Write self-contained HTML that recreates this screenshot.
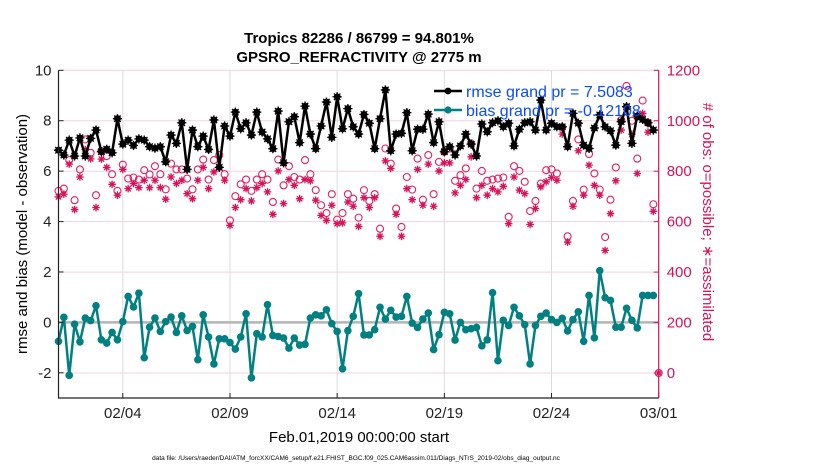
<!DOCTYPE html>
<html><head><meta charset="utf-8">
<style>
body{margin:0;background:#fff;}
svg{display:block;font-family:"Liberation Sans",sans-serif;}
</style></head>
<body>
<svg id="chart" width="830" height="470" viewBox="0 0 830 470" xmlns="http://www.w3.org/2000/svg">
<g id="grid"></g>
<g id="series"></g>
<g id="axes"></g>
<text x="359" y="43" font-size="15" font-weight="bold" text-anchor="middle">Tropics 82286 / 86799 = 94.801%</text>
<text x="359" y="62" font-size="15" font-weight="bold" text-anchor="middle">GPSRO_REFRACTIVITY @ 2775 m</text>
<text x="359" y="442" font-size="15" text-anchor="middle">Feb.01,2019 00:00:00 start</text>
<text transform="translate(27,234) rotate(-90)" font-size="15" text-anchor="middle">rmse and bias (model - observation)</text>
<text transform="translate(703,222) rotate(90)" font-size="15" fill="#d6135a" text-anchor="middle"># of obs: o=possible; ∗=assimilated</text>
<text x="356" y="460" font-size="6.5" text-anchor="middle">data file: /Users/raeder/DAI/ATM_forcXX/CAM6_setup/f.e21.FHIST_BGC.f09_025.CAM6assim.011/Diags_NTrS_2019-02/obs_diag_output.nc</text>
<g id="legend"></g>
</svg>
<script>
const xTickLabels=["02/04","02/09","02/14","02/19","02/24","03/01"];
const xTickDays=[3,8,13,18,23,28];
const yLeftTicks=[-2,0,2,4,6,8,10];
const yRightTicks=[0,200,400,600,800,1000,1200];
const rmse=[6.83,6.64,7.23,6.6,7.32,6.6,7.3,7.63,6.77,6.87,6.73,8.08,7.07,7.23,7.02,7.28,7.23,6.97,6.91,6.97,6.37,7.43,7.1,7.92,6.07,7.63,6.97,7.39,6.86,
8.03,6.15,7.79,7.39,8.34,7.68,7.92,7.43,8.34,7.55,7.28,6.89,8.38,6.33,7.96,8.16,7.13,8.58,7.47,6.89,7.79,8.74,7.34,8.95,7.68,8.48,7.76,7.47,
8.25,7.9,6.89,8.08,9.22,6.81,7.47,7.5,8.32,6.81,7.66,7.66,8.26,7.13,7.96,6.77,6.97,6.64,7.0,7.47,7.07,6.6,7.87,7.56,7.92,8.0,7.76,7.9,
7.0,7.66,7.92,7.96,7.63,8.82,7.63,7.9,7.76,7.76,6.97,8.29,7.9,7.03,6.9,7.71,8.23,7.76,7.6,7.03,7.96,8.56,7.1,8.19,8.05,7.92,7.63];
const bias=[-0.75,0.2,-2.1,-0.07,-0.77,0.17,0.07,0.66,-0.69,-0.82,-0.4,-0.69,0.03,1.03,0.61,1.16,-1.4,-0.19,0.17,-0.36,0.03,0.21,-0.4,0.26,-0.32,-0.16,-1.48,0.3,-0.58,-1.65,-0.65,-0.65,-0.8,-1.06,-0.58,0.34,-2.2,-0.45,-0.58,0.7,-0.52,-0.56,-0.62,-1.02,-0.62,-0.9,-0.87,0.17,0.3,0.26,0.5,-0.05,-0.36,-1.84,-0.33,0.24,1.14,
-0.5,-0.5,-0.29,0.6,0.13,0.48,0.21,0.24,1.03,-0.03,-0.2,0.13,0.37,-1.08,-0.49,0.4,0.34,-0.7,0,-0.29,-0.25,-0.2,-0.93,-0.69,1.18,-1.52,0.08,-0.12,0.6,0.26,-0.09,-1.65,-0.12,0.24,0.37,0.11,0,0.16,-0.34,0.11,0.42,-0.75,1.07,-0.61,2.05,0.98,0.87,-0.19,-0.19,0.56,0.08,-0.22,1.07,1.07,1.07];
const nPossible=[722,731,844,685,807,926,873,705,880,860,788,722,826,771,775,767,804,787,820,788,728,830,807,807,771,728,807,846,767,
844,864,788,605,701,748,767,722,767,788,767,678,846,744,820,777,767,844,788,725,665,634,709,608,634,709,691,616,
725,682,709,572,890,830,652,579,777,727,850,687,864,709,837,877,890,762,784,811,910,731,801,762,767,771,775,619,
820,801,758,642,682,751,804,807,791,974,542,682,926,727,868,791,727,539,687,815,1003,1138,1000,850,1080,992,669,0];
const nUsed=[698,709,828,648,777,886,849,656,848,815,748,705,807,731,751,735,764,735,764,735,689,777,751,764,711,691,764,815,731,
797,815,764,585,656,687,731,682,735,751,718,629,801,672,767,744,691,767,762,685,625,605,665,592,595,678,661,581,
695,656,695,542,841,811,629,542,731,687,807,665,828,661,801,833,833,714,744,767,857,695,744,705,731,718,740,592,
777,725,711,589,652,738,758,775,764,947,519,661,881,705,824,744,705,486,632,762,963,1053,947,791,1029,955,641,0];

const NS="http://www.w3.org/2000/svg";
const L=58.5,R=658.7,T=70.3,B=398;
function xs(d){return L+(R-L)*d/28;}
function yl(v){return T+(B-T)*(10-v)/13;}
function yr(v){return 373-(373-T)*v/1200;}
function el(tag,attrs,parent){const e=document.createElementNS(NS,tag);for(const k in attrs)e.setAttribute(k,attrs[k]);parent.appendChild(e);return e;}
const grid=document.getElementById('grid'),series=document.getElementById('series'),axes=document.getElementById('axes'),legend=document.getElementById('legend');
xTickDays.forEach((d,i)=>{
  const g=el('line',{x1:xs(d),x2:xs(d),y1:T,y2:B,stroke:'#dcdcdc','stroke-width':1},grid);
  
  
  const t=el('line',{x1:xs(d),x2:xs(d),y1:B,y2:B-5,stroke:'#222'},axes);
  
  
  const lb=el('text',{x:xs(d),y:B+20,'font-size':15,'text-anchor':'middle',fill:'#222'},axes);
  lb.textContent=xTickLabels[i];
  
  
});
yRightTicks.forEach(v=>{
  const g=el('line',{x1:L,x2:R,y1:yr(v),y2:yr(v),stroke:'#f2d3df','stroke-width':1},grid);
  
  
  const t=el('line',{x1:R,x2:R-5,y1:yr(v),y2:yr(v),stroke:'#d6135a'},axes);
  
  
  const lb=el('text',{x:R+8,y:yr(v)+5,'font-size':15,fill:'#d6135a'},axes);
  lb.textContent=v;
  
  
});
yLeftTicks.forEach(v=>{
  const t=el('line',{x1:L,x2:L+5,y1:yl(v),y2:yl(v),stroke:'#222'},axes);
  
  
  const lb=el('text',{x:L-7,y:yl(v)+5,'font-size':15,'text-anchor':'end',fill:'#222'},axes);
  lb.textContent=v;
  
  
});
const zl=el('line',{x1:L,x2:R,y1:yl(0),y2:yl(0),stroke:'#b4b4b4','stroke-width':2.5},grid);


const ax=el('path',{d:`M${L},${T}V${B}H${R}`,fill:'none',stroke:'#222','stroke-width':1.2},axes);


const ar=el('line',{x1:R,x2:R,y1:T,y2:B,stroke:'#d6135a','stroke-width':1.2},axes);



function star(cx,cy,s,color,parent,name){
  const p=el('path',{d:`M${cx-s},${cy}H${cx+s}M${cx},${cy-s}V${cy+s}M${cx-s*0.7},${cy-s*0.7}L${cx+s*0.7},${cy+s*0.7}M${cx-s*0.7},${cy+s*0.7}L${cx+s*0.7},${cy-s*0.7}`,stroke:color,'stroke-width':1.3,fill:'none'},parent);
  
  
  return p;
}
// obs counts
nPossible.forEach((v,i)=>{
  const c=el('circle',{cx:xs(i*0.25),cy:yr(v),r:3.5,fill:'none',stroke:'#e0205f','stroke-width':1.1},series);
  
  
});
nUsed.forEach((v,i)=>{star(xs(i*0.25),yr(v),3.8,'#d6135a',series,'obs-assimilated-point');});
// rmse
const rl=el('polyline',{points:rmse.map((v,i)=>xs(i*0.25)+','+yl(v)).join(' '),fill:'none',stroke:'#000','stroke-width':2.5},series);


rmse.forEach((v,i)=>{
  const c=el('circle',{cx:xs(i*0.25),cy:yl(v),r:3.4,fill:'#000'},series);
  
  
  star(xs(i*0.25),yl(v),4.6,'#000',series,'rmse-marker-star');
});
// bias
const bl=el('polyline',{points:bias.map((v,i)=>xs(i*0.25)+','+yl(v)).join(' '),fill:'none',stroke:'#008080','stroke-width':2.5},series);


bias.forEach((v,i)=>{
  const c=el('circle',{cx:xs(i*0.25),cy:yl(v),r:3.8,fill:'#008080'},series);
  
  
});
// legend
const l1=el('line',{x1:434,x2:462,y1:91,y2:91,stroke:'#000','stroke-width':2.5},legend);


const m1=el('circle',{cx:448,cy:91,r:3.4,fill:'#000'},legend);


const t1=el('text',{x:466,y:97,'font-size':16,fill:'#0a4bff'},legend);
t1.textContent='rmse grand pr = 7.5083';


const l2=el('line',{x1:434,x2:462,y1:110,y2:110,stroke:'#008080','stroke-width':2.5},legend);


const m2=el('circle',{cx:448,cy:110,r:3.6,fill:'#008080'},legend);


const t2=el('text',{x:466,y:116,'font-size':16,fill:'#0a4bff'},legend);
t2.textContent='bias grand pr = -0.12108';


</script>
</body></html>
